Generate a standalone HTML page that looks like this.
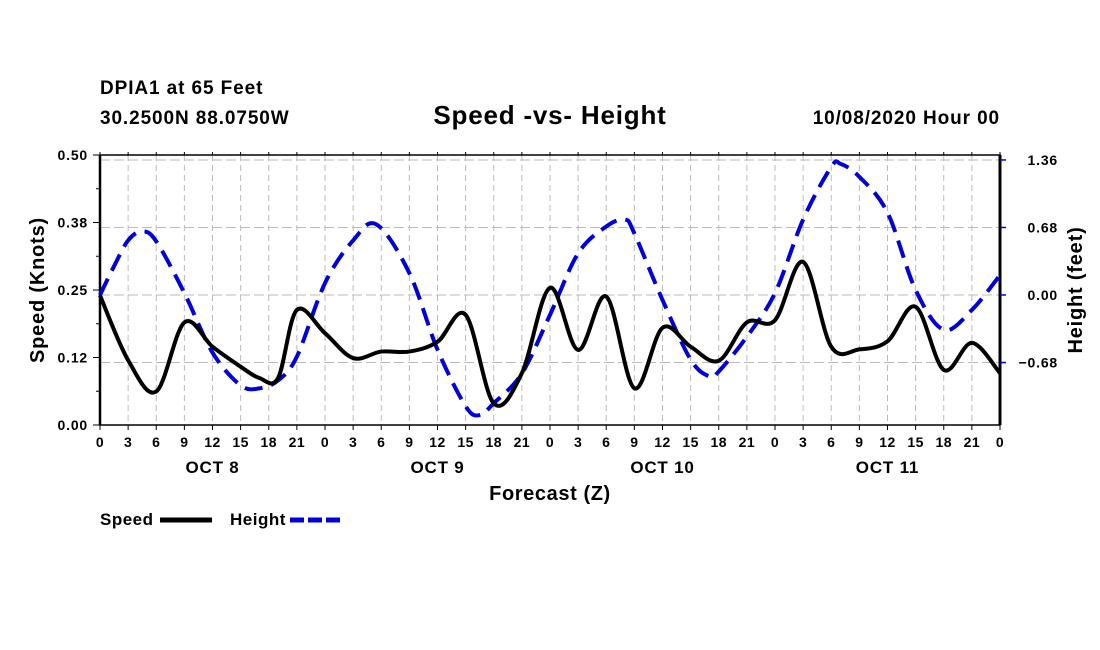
<!DOCTYPE html>
<html><head><meta charset="utf-8"><style>
body{margin:0;background:#fff;width:1100px;height:650px;overflow:hidden}
svg{display:block}
text{font-family:"Liberation Sans",sans-serif;font-weight:bold;fill:#000}
</style></head><body>
<svg id="chart" width="1100" height="650">
<text x="100" y="94" font-size="19" letter-spacing="0.9">DPIA1 at 65 Feet</text>
<text x="100" y="124" font-size="19" letter-spacing="0.9">30.2500N 88.0750W</text>
<text x="550" y="124" font-size="26" letter-spacing="0.8" text-anchor="middle">Speed -vs- Height</text>
<text x="1000" y="124" font-size="19" letter-spacing="0.9" text-anchor="end">10/08/2020 Hour 00</text>
<g id="grid"></g><g id="axes"></g><g id="series"></g>
<text x="550" y="500" font-size="20" letter-spacing="0.6" text-anchor="middle">Forecast (Z)</text>
<text transform="translate(44,290) rotate(-90)" font-size="20" letter-spacing="0.8" text-anchor="middle">Speed (Knots)</text>
<text transform="translate(1082,290) rotate(-90)" font-size="20" letter-spacing="0.8" text-anchor="middle">Height (feet)</text>
<g>
<text x="100" y="525" font-size="17" letter-spacing="0.5">Speed</text>
<line x1="160" y1="520" x2="212" y2="520" stroke="#000" stroke-width="5"/>
<text x="230" y="525" font-size="17" letter-spacing="0.5">Height</text>
<line x1="290" y1="520" x2="342" y2="520" stroke="#0000dd" stroke-width="5" stroke-dasharray="14,4"/>
</g>
</svg>
<script>
const speedHours=[0,3,6,9,12,15,17,19,21,24,27,30,33,36,39,42,45,48,51,54,57,60,63,66,69,72,75,78,81,84,87,90,93,96];
const speedValues=[0.24,0.12,0.062,0.19,0.145,0.108,0.087,0.087,0.213,0.17,0.124,0.136,0.136,0.154,0.204,0.04,0.096,0.254,0.139,0.238,0.068,0.18,0.145,0.119,0.19,0.194,0.302,0.145,0.14,0.155,0.219,0.102,0.152,0.096];
const heightHours=[0,1.5,3,4.5,6,9,12,15,17,19,21,24,27,29.5,33,36,39,40.5,42,45,48,51,54,56,57,60,63,65,66,69,72,75,78,79,81,84,87,90,93,96];
const heightValues=[0,0.29,0.55,0.64,0.54,0.02,-0.58,-0.91,-0.94,-0.86,-0.62,0.12,0.55,0.71,0.22,-0.55,-1.12,-1.21,-1.09,-0.79,-0.2,0.42,0.69,0.76,0.62,-0.05,-0.65,-0.82,-0.77,-0.42,0.02,0.76,1.29,1.32,1.19,0.83,0.05,-0.35,-0.15,0.2];
const xTickLabels=["0","3","6","9","12","15","18","21","0","3","6","9","12","15","18","21","0","3","6","9","12","15","18","21","0","3","6","9","12","15","18","21","0"];
const dayLabels=["OCT 8","OCT 9","OCT 10","OCT 11"];
const leftTicks=[0,0.125,0.25,0.375,0.5];
const leftTickLabels=["0.00","0.12","0.25","0.38","0.50"];
const rightTicks=[-0.68,0,0.68,1.36];
const rightTickLabels=["\u22120.68","0.00","0.68","1.36"];
const X0=100,X1=1000,Y0=425,Y1=155;
const xs=h=>X0+h*(X1-X0)/96;
const ys=v=>Y0-v*(Y0-Y1)/0.5;
const yh=f=>295-f*99.3;
const NS="http://www.w3.org/2000/svg";
function mk(tag,attrs,parent){const e=document.createElementNS(NS,tag);for(const k in attrs)e.setAttribute(k,attrs[k]);parent.appendChild(e);return e;}
const grid=document.getElementById('grid'),axes=document.getElementById('axes'),series=document.getElementById('series');
for(let i=1;i<32;i++){const l=mk('line',{x1:xs(i*3),x2:xs(i*3),y1:Y1,y2:Y0,stroke:'#bbb','stroke-dasharray':'6,4'},grid);

}
rightTicks.forEach(t=>{const l=mk('line',{x1:X0,x2:X1,y1:yh(t),y2:yh(t),stroke:'#bbb','stroke-dasharray':'10,4'},grid);

});
mk('rect',{x:X0,y:Y1,width:X1-X0,height:Y0-Y1,fill:'none',stroke:'#000','stroke-width':1.5},axes);
mk('line',{x1:X0,x2:X0,y1:Y1,y2:Y0,stroke:'#000','stroke-width':2.5},axes);
mk('line',{x1:X1,x2:X1,y1:Y1,y2:Y0,stroke:'#000','stroke-width':3},axes);
xTickLabels.forEach((lab,i)=>{const x=xs(i*3);
mk('line',{x1:x,x2:x,y1:Y0,y2:Y0+5,stroke:'#000'},axes);mk('line',{x1:x,x2:x,y1:Y1,y2:Y1-3,stroke:'#000'},axes);
const t=mk('text',{x:x,y:Y0+22,'font-size':14,'text-anchor':'middle','letter-spacing':0.5},axes);t.textContent=lab;

});
dayLabels.forEach((d,i)=>{const t=mk('text',{x:xs(12+24*i),y:Y0+48,'font-size':17,'text-anchor':'middle','letter-spacing':0.8},axes);t.textContent=d;

});
leftTicks.forEach((v,i)=>{const y=ys(v);mk('line',{x1:X0-7,x2:X0,y1:y,y2:y,stroke:'#000'},axes);
const t=mk('text',{x:X0-12,y:y+5,'font-size':14,'text-anchor':'end','letter-spacing':0.8},axes);t.textContent=leftTickLabels[i];

});
for(let i=0;i<4;i++){const y=ys(0.0625+i*0.125);mk('line',{x1:X0-4,x2:X0,y1:y,y2:y,stroke:'#000'},axes);}
rightTicks.forEach((v,i)=>{const y=yh(v);mk('line',{x1:X1,x2:X1+6,y1:y,y2:y,stroke:'#0000dd','stroke-width':1.5},axes);
const t=mk('text',{x:X1+58,y:y+5,'font-size':14,'text-anchor':'end','letter-spacing':0.8},axes);t.textContent=rightTickLabels[i];

});
function spline(pts){let d='M'+pts[0][0]+','+pts[0][1];
for(let i=0;i<pts.length-1;i++){const p0=pts[Math.max(0,i-1)],p1=pts[i],p2=pts[i+1],p3=pts[Math.min(pts.length-1,i+2)];
d+=' C'+(p1[0]+(p2[0]-p0[0])/6)+','+(p1[1]+(p2[1]-p0[1])/6)+' '+(p2[0]-(p3[0]-p1[0])/6)+','+(p2[1]-(p3[1]-p1[1])/6)+' '+p2[0]+','+p2[1];}
return d;}
const hp=mk('path',{d:spline(heightHours.map((h,i)=>[xs(h),yh(heightValues[i])])),fill:'none',stroke:'#0000dd','stroke-width':4,'stroke-dasharray':'18,9'},series);


const sp=mk('path',{d:spline(speedHours.map((h,i)=>[xs(h),ys(speedValues[i])])),fill:'none',stroke:'#000','stroke-width':4},series);


</script>
</body></html>
